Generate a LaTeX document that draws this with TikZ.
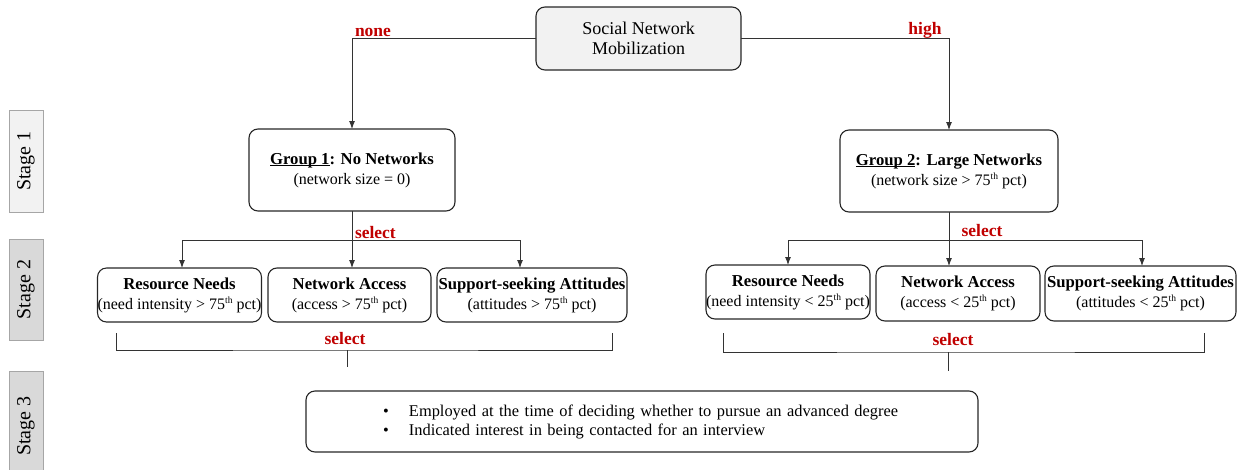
\documentclass[tikz,border=0pt]{standalone}
\usepackage{fontspec}
\setmainfont{Liberation Serif}
\usetikzlibrary{arrows.meta}
\definecolor{selred}{HTML}{C00000}
\definecolor{boxgray}{HTML}{F2F2F2}
\definecolor{stagedark}{HTML}{D9D9D9}
\definecolor{stageedge}{HTML}{A6A6A6}
% ordinal suffix, set small and raised
\newcommand{\ordth}{\raisebox{6pt}{\fontsize{9.5}{10}\selectfont th}}
% underline sitting close to the baseline
\newcommand{\ulbase}[1]{\setbox0\hbox{#1}\rlap{\rule[-2.2pt]{\wd0}{0.9pt}}\box0}
\newcommand{\subline}{\fontsize{16}{20}\selectfont}
\tikzset{
  every node/.style={inner sep=0pt, outer sep=0pt},
  rbox/.style={draw=black!85, line width=1.1pt, rounded corners=9pt, align=center,
               font=\fontsize{16.7}{20}\selectfont},
  topbox/.style={rbox, fill=boxgray, font=\fontsize{18}{20}\selectfont},
  stagebox/.style={draw=stageedge, line width=0.8pt, rotate=90,
                   font=\fontsize{20}{22}\selectfont},
  conn/.style={draw=black!80, line width=0.9pt},
  arr/.style={conn, -{Latex[length=8pt,width=6pt]}},
  sellabel/.style={text=selred, font=\bfseries\fontsize{17.5}{20}\selectfont},
}
\begin{document}
\begin{tikzpicture}[x=1pt,y=-1pt]
\useasboundingbox (0,0) rectangle (1245,469);

% stage markers on the left margin
\node[stagebox, fill=boxgray, minimum width=102pt, minimum height=34pt] (st1) at (26,161) {Stage 1};
\node[stagebox, fill=stagedark, minimum width=101pt, minimum height=34pt] (st2) at (26,289.5) {Stage 2};
\node[stagebox, fill=stagedark, minimum width=110pt, minimum height=34pt] (st3) at (26,426) {Stage 3};

% root
\node[topbox, minimum width=205pt, minimum height=63pt] (top) at (638.5,38.5)
  {Social Network\\Mobilization};

% stage 1 groups
\node[rbox, minimum width=206pt, minimum height=82pt] (g1) at (352,170)
  {\textbf{\ulbase{Group 1}: No Networks}\\\subline(network size = 0)};
\node[rbox, minimum width=218pt, minimum height=82pt] (g2) at (949,171)
  {\textbf{\ulbase{Group 2}: Large Networks}\\\subline(network size > 75\ordth{} pct)};

% stage 2 criteria, group 1
\node[rbox, minimum width=163pt, minimum height=54pt] (rn1) at (179.5,295)
  {\textbf{Resource Needs}\\\subline(need intensity > 75\ordth{} pct)};
\node[rbox, minimum width=163pt, minimum height=54pt] (na1) at (349.5,295)
  {\textbf{Network Access}\\\subline(access > 75\ordth{} pct)};
\node[rbox, minimum width=190pt, minimum height=54pt] (ss1) at (532,295)
  {\textbf{Support-seeking Attitudes}\\\subline(attitudes > 75\ordth{} pct)};

% stage 2 criteria, group 2
\node[rbox, minimum width=164pt, minimum height=54pt] (rn2) at (788,292)
  {\textbf{Resource Needs}\\\subline(need intensity < 25\ordth{} pct)};
\node[rbox, minimum width=164pt, minimum height=55pt] (na2) at (958,293.5)
  {\textbf{Network Access}\\\subline(access < 25\ordth{} pct)};
\node[rbox, minimum width=191pt, minimum height=55pt] (ss2) at (1140.5,293.5)
  {\textbf{Support-seeking Attitudes}\\\subline(attitudes < 25\ordth{} pct)};

% stage 3 common criteria
\node[rbox, minimum width=672pt, minimum height=61pt, text width=672pt, align=left,
      font=\fontsize{16.4}{19}\selectfont] (s3) at (642,421.5)
  {\hspace*{77pt}\makebox[26pt][l]{\textbullet}Employed at the time of deciding whether to pursue an advanced degree\\
   \hspace*{77pt}\makebox[26pt][l]{\textbullet}Indicated interest in being contacted for an interview};

% root to groups
\draw[arr] (top.west) -| (g1.north);
\draw[arr] (top.east) -| (g2.north);
\node[sellabel] (lnone) at (373,32) {none};
\node[sellabel] (lhigh) at (925,30) {high};

% group 1 branches
\coordinate (b1) at (352,240);
\coordinate (b1l) at (182,240);
\coordinate (b1r) at (520,240);
\draw[conn] (g1.south) -- (b1);
\draw[conn] (b1l) -- (b1r);
\draw[arr] (b1l) -- (b1l |- rn1.north);
\draw[arr] (b1) -- (b1 |- na1.north);
\draw[arr] (b1r) -- (b1r |- ss1.north);
\node[sellabel, anchor=west] (lsel1) at (355,233) {select};

% group 2 branches
\coordinate (b2) at (949,240);
\coordinate (b2l) at (788,240);
\coordinate (b2r) at (1142,240);
\draw[conn] (g2.south) -- (b2);
\draw[conn] (b2l) -- (b2r);
\draw[arr] (b2l) -- (b2l |- rn2.north);
\draw[arr] (b2) -- (b2 |- na2.north);
\draw[arr] (b2r) -- (b2r |- ss2.north);
\node[sellabel] (lsel2) at (982,231) {select};

% brackets under stage 2
\coordinate (k1a) at (116,333);
\coordinate (k1b) at (612,333);
\coordinate (k1m) at (347,350);
\coordinate (k1e) at (347,367);
\draw[conn] (k1a) |- (k1m) -| (k1b);
\draw[conn] (k1m) -- (k1e);
\node[sellabel] (lsel3) at (345,339) {select};

\coordinate (k2a) at (723,333);
\coordinate (k2b) at (1204,333);
\coordinate (k2m) at (948,352);
\coordinate (k2e) at (948,371);
\draw[conn] (k2a) |- (k2m) -| (k2b);
\draw[conn] (k2m) -- (k2e);
\node[sellabel] (lsel4) at (953,340) {select};
\end{tikzpicture}
\end{document}
